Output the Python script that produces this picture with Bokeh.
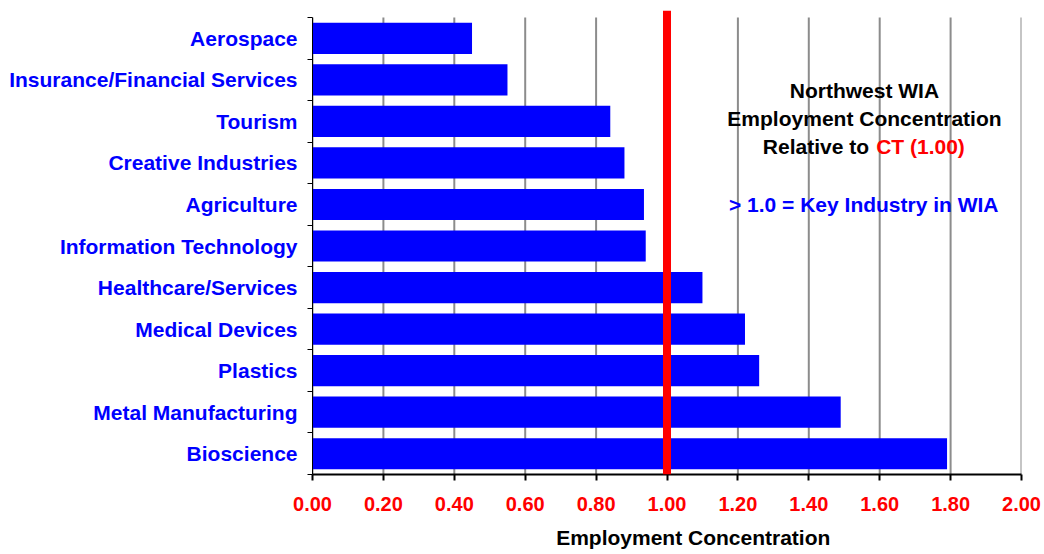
from bokeh.plotting import figure
from bokeh.models import (Range1d, FixedTicker, NumeralTickFormatter, Label,
                          BoxAnnotation, ColumnDataSource)
from bokeh.embed import file_html
from bokeh.resources import INLINE

# ---- data ----
industries = [
    "Aerospace",
    "Insurance/Financial Services",
    "Tourism",
    "Creative Industries",
    "Agriculture",
    "Information Technology",
    "Healthcare/Services",
    "Medical Devices",
    "Plastics",
    "Metal Manufacturing",
    "Bioscience",
]
concentration = [0.45, 0.55, 0.84, 0.88, 0.935, 0.94, 1.10, 1.22, 1.26, 1.49, 1.79]
ct_benchmark = 1.00
x_ticks = [0.0, 0.2, 0.4, 0.6, 0.8, 1.0, 1.2, 1.4, 1.6, 1.8, 2.0]

title_lines = ["Northwest WIA", "Employment Concentration"]
relative_text = "Relative to"
ct_text = "CT (1.00)"
key_text = "> 1.0 = Key Industry in WIA"
x_title = "Employment Concentration"

FONT = "Liberation Sans"
BLUE = "#0000FF"
RED = "#FF0000"

n = len(industries)
ypos = [n - 1 - i for i in range(n)]          # top item drawn highest
bounds = [i - 0.5 for i in range(n + 1)]
y_lo, y_hi = bounds[0], bounds[-1]

src = ColumnDataSource(dict(y=ypos, v=concentration, name=industries))

p = figure(width=1042, height=554, output_backend="svg", toolbar_location=None,
           x_range=Range1d(0, 2), y_range=Range1d(y_lo, y_hi + 0.17),
           min_border_left=312, min_border_right=21, min_border_top=10,
           min_border_bottom=80)
p.outline_line_color = None
p.background_fill_color = "white"
p.xgrid.grid_line_color = None
p.ygrid.grid_line_color = None

# vertical grid lines, limited to the category band area
p.segment(x0=x_ticks, x1=x_ticks, y0=y_lo, y1=y_hi,
          line_color="#8c8c8c", line_width=2)

p.hbar(y="y", right="v", left=0, height=0.75, source=src,
       fill_color=BLUE, line_color=None)

# x axis
xa = p.xaxis[0]
xa.ticker = FixedTicker(ticks=x_ticks)
xa.formatter = NumeralTickFormatter(format="0.00")
xa.axis_line_color = "black"
xa.axis_line_width = 2
xa.major_tick_line_color = "black"
xa.major_tick_line_width = 2
xa.major_tick_out = 6
xa.major_tick_in = 0
xa.minor_tick_line_color = None
xa.major_label_standoff = 16
xa.major_label_text_font = FONT
xa.major_label_text_font_style = "bold"
xa.major_label_text_font_size = "20px"
xa.major_label_text_color = RED
xa.axis_label = "\u00a0" * 9 + x_title
xa.axis_label_standoff = 12
xa.axis_label_text_font = FONT
xa.axis_label_text_font_style = "bold"
xa.axis_label_text_font_size = "21px"
xa.axis_label_text_color = "black"

# y axis: labels at bar centres, tick marks between bars
ya = p.yaxis[0]
ya.bounds = (y_lo, y_hi)
ya.ticker = FixedTicker(ticks=ypos, minor_ticks=bounds)
ya.major_label_overrides = {yv: nm for yv, nm in zip(ypos, industries)}
ya.axis_line_color = "black"
ya.axis_line_width = 1
ya.major_tick_line_color = None
ya.major_tick_out = 0
ya.major_tick_in = 0
ya.minor_tick_line_color = "black"
ya.minor_tick_line_width = 1
ya.minor_tick_out = 5
ya.minor_tick_in = 0
ya.major_label_standoff = 10
ya.major_label_text_font = FONT
ya.major_label_text_font_style = "bold"
ya.major_label_text_font_size = "21px"
ya.major_label_text_color = BLUE

# red benchmark line
p.add_layout(BoxAnnotation(left=ct_benchmark - 0.0113, right=ct_benchmark + 0.0113,
                           fill_color=RED, fill_alpha=1.0, line_color=None,
                           level="overlay"))

def lab(text, x, y, color="black", align="center"):
    p.add_layout(Label(x=x, y=y, text=text, text_font=FONT, text_font_style="bold",
                       text_font_size="21px", text_color=color, text_align=align,
                       text_baseline="alphabetic"))

lab(title_lines[0], 1.557, 8.75)
lab(title_lines[1], 1.557, 8.08)
lab(relative_text, 1.570, 7.39, align="right")
lab(ct_text, 1.590, 7.39, color=RED, align="left")
lab(key_text, 1.555, 6.01, color=BLUE)

open("out.html", "w").write(file_html(p, INLINE))
